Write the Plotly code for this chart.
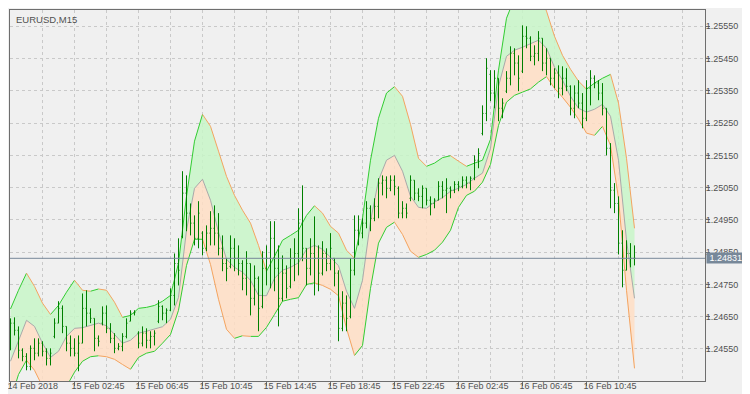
import plotly.graph_objects as go

# ---------------- data ----------------
bar_index = list(range(157))  # 15-minute bars, bar 0 = 14 Feb 2018 22:45

bar_open = [1.24568, 1.24630, 1.24608, 1.24546, 1.24527, 1.24496, 1.24552, 1.24537, 1.24568, 1.24543,
            1.24521, 1.24589, 1.24630, 1.24676, 1.24620, 1.24568, 1.24552, 1.24537, 1.24568, 1.24676,
            1.24661, 1.24645, 1.24583, 1.24630, 1.24661, 1.24614, 1.24583, 1.24552, 1.24558, 1.24589,
            1.24636, 1.24661, 1.24599, 1.24568, 1.24599, 1.24577, 1.24589, 1.24636, 1.24682, 1.24661,
            1.24670, 1.24716, 1.24815, 1.24899, 1.25033, 1.24971, 1.24940, 1.24893, 1.24909, 1.24862,
            1.24909, 1.24924, 1.24909, 1.24862, 1.24815, 1.24806, 1.24862, 1.24831, 1.24815, 1.24769,
            1.24815, 1.24707, 1.24769, 1.24682, 1.24800, 1.24831, 1.24893, 1.24800, 1.24707, 1.24785,
            1.24744, 1.24831, 1.24846, 1.24940, 1.24862, 1.24800, 1.24846, 1.24831, 1.24785, 1.24846,
            1.24815, 1.24831, 1.24785, 1.24614, 1.24692, 1.24651, 1.24794, 1.24918, 1.24909, 1.24940,
            1.24986, 1.24955, 1.24992, 1.25064, 1.25073, 1.25048, 1.25073, 1.25048, 1.24971, 1.24986,
            1.25017, 1.25073, 1.25033, 1.25023, 1.25048, 1.25011, 1.25001, 1.25011, 1.25054, 1.25042,
            1.25048, 1.25042, 1.25060, 1.25054, 1.25073, 1.25064, 1.25079, 1.25135, 1.25218, 1.25280,
            1.25401, 1.25343, 1.25389, 1.25296, 1.25349, 1.25389, 1.25466, 1.25436, 1.25411, 1.25519,
            1.25513, 1.25457, 1.25466, 1.25513, 1.25436, 1.25451, 1.25389, 1.25405, 1.25358, 1.25389,
            1.25364, 1.25296, 1.25343, 1.25312, 1.25265, 1.25358, 1.25389, 1.25374, 1.25343, 1.25296,
            1.25172, 1.25042, 1.25001, 1.24878, 1.24794, 1.24846, 1.24831]

bar_high = [1.24645, 1.24648, 1.24620, 1.24552, 1.24537, 1.24561, 1.24583, 1.24583, 1.24574, 1.24552,
            1.24552, 1.24645, 1.24698, 1.24685, 1.24620, 1.24592, 1.24583, 1.24592, 1.24722, 1.24732,
            1.24676, 1.24645, 1.24592, 1.24682, 1.24685, 1.24630, 1.24599, 1.24568, 1.24599, 1.24645,
            1.24670, 1.24670, 1.24605, 1.24620, 1.24614, 1.24605, 1.24608, 1.24701, 1.24685, 1.24676,
            1.24738, 1.24846, 1.24893, 1.25101, 1.25088, 1.25001, 1.24964, 1.25008, 1.24915, 1.24933,
            1.24977, 1.24995, 1.24971, 1.24902, 1.24831, 1.24902, 1.24893, 1.24871, 1.24825, 1.24853,
            1.24815, 1.24809, 1.24775, 1.24853, 1.24871, 1.24946, 1.24946, 1.24871, 1.24840, 1.24809,
            1.24862, 1.24893, 1.24986, 1.25057, 1.24862, 1.24893, 1.24961, 1.24871, 1.24884, 1.24862,
            1.24909, 1.24831, 1.24794, 1.24729, 1.24716, 1.24831, 1.24964, 1.24964, 1.24955, 1.25008,
            1.24995, 1.25017, 1.25079, 1.25088, 1.25085, 1.25088, 1.25088, 1.25054, 1.25008, 1.25001,
            1.25088, 1.25073, 1.25048, 1.25057, 1.25048, 1.25023, 1.25017, 1.25070, 1.25070, 1.25079,
            1.25054, 1.25070, 1.25070, 1.25085, 1.25085, 1.25085, 1.25150, 1.25172, 1.25305, 1.25451,
            1.25414, 1.25414, 1.25389, 1.25327, 1.25411, 1.25488, 1.25482, 1.25460, 1.25553, 1.25550,
            1.25519, 1.25491, 1.25535, 1.25513, 1.25482, 1.25451, 1.25420, 1.25429, 1.25426, 1.25420,
            1.25367, 1.25367, 1.25383, 1.25343, 1.25383, 1.25414, 1.25398, 1.25383, 1.25374, 1.25296,
            1.25188, 1.25064, 1.25023, 1.24918, 1.24887, 1.24878, 1.24871]

bar_low = [1.24546, 1.24592, 1.24521, 1.24512, 1.24484, 1.24484, 1.24515, 1.24527, 1.24527, 1.24499,
           1.24499, 1.24583, 1.24630, 1.24599, 1.24543, 1.24527, 1.24527, 1.24481, 1.24568, 1.24620,
           1.24630, 1.24543, 1.24558, 1.24623, 1.24599, 1.24568, 1.24537, 1.24546, 1.24543, 1.24583,
           1.24636, 1.24654, 1.24552, 1.24558, 1.24552, 1.24552, 1.24561, 1.24630, 1.24639, 1.24630,
           1.24667, 1.24685, 1.24747, 1.24893, 1.24915, 1.24902, 1.24871, 1.24862, 1.24840, 1.24853,
           1.24871, 1.24871, 1.24840, 1.24791, 1.24760, 1.24800, 1.24791, 1.24778, 1.24732, 1.24716,
           1.24654, 1.24685, 1.24605, 1.24676, 1.24747, 1.24738, 1.24729, 1.24620, 1.24698, 1.24707,
           1.24738, 1.24760, 1.24778, 1.24822, 1.24747, 1.24778, 1.24716, 1.24729, 1.24778, 1.24791,
           1.24794, 1.24744, 1.24574, 1.24605, 1.24605, 1.24645, 1.24778, 1.24871, 1.24893, 1.24924,
           1.24915, 1.24946, 1.24955, 1.25026, 1.25017, 1.25039, 1.25026, 1.24955, 1.24955, 1.24955,
           1.25008, 1.25011, 1.25008, 1.24986, 1.24995, 1.24964, 1.24986, 1.25011, 1.25017, 1.24971,
           1.25017, 1.25033, 1.25039, 1.25048, 1.25048, 1.25042, 1.25073, 1.25110, 1.25212, 1.25256,
           1.25318, 1.25296, 1.25256, 1.25265, 1.25343, 1.25367, 1.25398, 1.25349, 1.25405, 1.25482,
           1.25442, 1.25429, 1.25442, 1.25411, 1.25398, 1.25367, 1.25358, 1.25327, 1.25336, 1.25349,
           1.25274, 1.25265, 1.25296, 1.25234, 1.25256, 1.25305, 1.25358, 1.25321, 1.25274, 1.25150,
           1.24986, 1.24971, 1.24843, 1.24741, 1.24794, 1.24803, 1.24809]

bar_close = [1.24630, 1.24608, 1.24546, 1.24527, 1.24496, 1.24552, 1.24537, 1.24568, 1.24543, 1.24521,
             1.24537, 1.24630, 1.24676, 1.24620, 1.24568, 1.24552, 1.24537, 1.24568, 1.24676, 1.24661,
             1.24645, 1.24583, 1.24574, 1.24661, 1.24614, 1.24583, 1.24552, 1.24558, 1.24589, 1.24630,
             1.24661, 1.24664, 1.24568, 1.24599, 1.24577, 1.24589, 1.24599, 1.24682, 1.24661, 1.24670,
             1.24716, 1.24815, 1.24794, 1.25033, 1.24971, 1.24940, 1.24893, 1.24971, 1.24862, 1.24909,
             1.24924, 1.24909, 1.24862, 1.24815, 1.24800, 1.24862, 1.24831, 1.24815, 1.24769, 1.24815,
             1.24707, 1.24769, 1.24676, 1.24800, 1.24831, 1.24893, 1.24800, 1.24707, 1.24785, 1.24738,
             1.24831, 1.24846, 1.24940, 1.24862, 1.24800, 1.24846, 1.24831, 1.24785, 1.24846, 1.24815,
             1.24862, 1.24785, 1.24614, 1.24692, 1.24645, 1.24794, 1.24918, 1.24909, 1.24940, 1.24986,
             1.24955, 1.24992, 1.25064, 1.25073, 1.25048, 1.25073, 1.25054, 1.24971, 1.24986, 1.24971,
             1.25073, 1.25033, 1.25023, 1.25048, 1.25011, 1.25001, 1.25011, 1.25054, 1.25042, 1.25048,
             1.25042, 1.25060, 1.25054, 1.25073, 1.25064, 1.25079, 1.25135, 1.25156, 1.25280, 1.25420,
             1.25343, 1.25389, 1.25296, 1.25312, 1.25389, 1.25466, 1.25436, 1.25389, 1.25519, 1.25513,
             1.25457, 1.25466, 1.25513, 1.25436, 1.25451, 1.25389, 1.25405, 1.25358, 1.25389, 1.25364,
             1.25296, 1.25343, 1.25312, 1.25265, 1.25358, 1.25389, 1.25374, 1.25343, 1.25296, 1.25172,
             1.25042, 1.25001, 1.24878, 1.24794, 1.24846, 1.24831, 1.24831]

band_index = list(range(0, 157, 2))

band_upper = [1.24674, 1.24732, 1.24785, 1.24744, 1.24692, 1.24657, 1.24685, 1.24726, 1.24763, 1.24732,
              1.24729, 1.24736, 1.24732, 1.24695, 1.24648, 1.24654, 1.24676, 1.24679, 1.24685, 1.24698,
              1.24716, 1.24816, 1.25023, 1.25194, 1.25277, 1.25240, 1.25163, 1.25085, 1.25026, 1.24980,
              1.24940, 1.24871, 1.24791, 1.24837, 1.24887, 1.24902, 1.24918, 1.24964, 1.24994, 1.24971,
              1.24930, 1.24909, 1.24856, 1.24831, 1.24955, 1.25135, 1.25265, 1.25343, 1.25363, 1.25333,
              1.25246, 1.25141, 1.25116, 1.25126, 1.25143, 1.25149, 1.25132, 1.25116, 1.25126, 1.25135,
              1.25200, 1.25414, 1.25575, 1.25637, 1.25674, 1.25680, 1.25653, 1.25597, 1.25519, 1.25460,
              1.25417, 1.25380, 1.25355, 1.25374, 1.25389, 1.25401, 1.25312, 1.25141, 1.24924]

band_middle = [1.24512, 1.24574, 1.24639, 1.24620, 1.24568, 1.24524, 1.24543, 1.24589, 1.24614, 1.24616,
               1.24622, 1.24630, 1.24622, 1.24595, 1.24568, 1.24577, 1.24599, 1.24605, 1.24611, 1.24619,
               1.24642, 1.24710, 1.24918, 1.25048, 1.25076, 1.25011, 1.24912, 1.24828, 1.24803, 1.24788,
               1.24763, 1.24716, 1.24715, 1.24769, 1.24794, 1.24803, 1.24817, 1.24859, 1.24871, 1.24859,
               1.24834, 1.24808, 1.24729, 1.24676, 1.24763, 1.24946, 1.25073, 1.25135, 1.25150, 1.25101,
               1.25023, 1.24989, 1.24986, 1.25005, 1.25019, 1.25039, 1.25048, 1.25060, 1.25079, 1.25095,
               1.25172, 1.25364, 1.25457, 1.25476, 1.25485, 1.25496, 1.25507, 1.25482, 1.25423, 1.25383,
               1.25333, 1.25296, 1.25284, 1.25293, 1.25308, 1.25271, 1.25135, 1.24887, 1.24707]

band_lower = [1.24391, 1.24471, 1.24515, 1.24484, 1.24434, 1.24403, 1.24397, 1.24434, 1.24478, 1.24512,
              1.24526, 1.24529, 1.24526, 1.24518, 1.24502, 1.24487, 1.24524, 1.24537, 1.24543, 1.24568,
              1.24595, 1.24670, 1.24809, 1.24890, 1.24890, 1.24812, 1.24704, 1.24611, 1.24583, 1.24591,
              1.24589, 1.24589, 1.24617, 1.24657, 1.24698, 1.24704, 1.24709, 1.24750, 1.24755, 1.24747,
              1.24735, 1.24715, 1.24614, 1.24530, 1.24561, 1.24738, 1.24878, 1.24927, 1.24943, 1.24905,
              1.24853, 1.24834, 1.24843, 1.24856, 1.24881, 1.24918, 1.24989, 1.25026, 1.25039, 1.25067,
              1.25122, 1.25243, 1.25315, 1.25336, 1.25346, 1.25356, 1.25377, 1.25394, 1.25358, 1.25330,
              1.25299, 1.25262, 1.25219, 1.25212, 1.25240, 1.25181, 1.25017, 1.24732, 1.24490]

x_tick_bars = [0, 16, 32, 48, 64, 80, 96, 112, 128, 144]
x_tick_labels = ["14 Feb 2018", "15 Feb 02:45", "15 Feb 06:45", "15 Feb 10:45", "15 Feb 14:45",
                 "15 Feb 18:45", "15 Feb 22:45", "16 Feb 02:45", "16 Feb 06:45", "16 Feb 10:45"]
x_grid_bars = [8, 24, 40, 56, 72, 88, 104, 120, 136, 152, 168]
y_tick_prices = [1.24550, 1.24650, 1.24750, 1.24850, 1.24950, 1.25050,
                 1.25150, 1.25250, 1.25350, 1.25450, 1.25550]
last_price = 1.24831
symbol_title = "EURUSD,M15"

# ---------------- styles ----------------
BG = "#F0F0F0"
AXIS = "#6E6E6E"
GRID = "#C9C9C9"
TXT = "#505050"
UP = "#32CD32"
DOWN = "#F4A460"
MID = "#A9A9A9"
BAR = "#008000"
FONT = "Liberation Sans, Arial, sans-serif"
TICK_HALF = 0.25  # open/close tick length in bar units


def slope_segments(xs, ys, rising):
    sx, sy = [], []
    for i in range(len(ys) - 1):
        up = ys[i + 1] >= ys[i]
        if up == rising:
            sx += [xs[i], xs[i + 1], None]
            sy += [ys[i], ys[i + 1], None]
    return sx, sy


def ohlc_segments(xs, o, h, l, c):
    sx, sy = [], []
    for x, oo, hh, ll, cc in zip(xs, o, h, l, c):
        sx += [x, x, None, x - TICK_HALF, x, None, x, x + TICK_HALF, None]
        sy += [ll, hh, None, oo, oo, None, cc, cc, None]
    return sx, sy


fig = go.Figure()

# peach fill between middle and lower
fig.add_trace(go.Scatter(x=band_index, y=band_lower, mode="lines", line=dict(width=0),
                         hoverinfo="skip"))
fig.add_trace(go.Scatter(x=band_index, y=band_middle, mode="lines", line=dict(width=0),
                         fill="tonexty", fillcolor="rgba(255,222,196,0.85)", hoverinfo="skip"))
# green fill between upper and middle
fig.add_trace(go.Scatter(x=band_index, y=band_middle, mode="lines", line=dict(width=0),
                         hoverinfo="skip"))
fig.add_trace(go.Scatter(x=band_index, y=band_upper, mode="lines", line=dict(width=0),
                         fill="tonexty", fillcolor="rgba(200,246,200,0.85)", hoverinfo="skip"))

# middle line
fig.add_trace(go.Scatter(x=band_index, y=band_middle, mode="lines",
                         line=dict(color=MID, width=1), hoverinfo="skip"))

# slope-coloured outer bands
for band in (band_upper, band_lower):
    for rising, col in ((True, UP), (False, DOWN)):
        sx, sy = slope_segments(band_index, band, rising)
        fig.add_trace(go.Scatter(x=sx, y=sy, mode="lines", line=dict(color=col, width=1),
                                 connectgaps=False, hoverinfo="skip"))

# price bars (drawn as line segments so they sit above the fills)
bx, by = ohlc_segments(bar_index, bar_open, bar_high, bar_low, bar_close)
fig.add_trace(go.Scatter(x=bx, y=by, mode="lines", line=dict(color=BAR, width=1),
                         connectgaps=False, hoverinfo="skip"))

# current price line
fig.add_shape(type="line", xref="paper", x0=0, x1=1, yref="y", y0=last_price, y1=last_price,
              line=dict(color="#778899", width=1), layer="above")
fig.add_annotation(xref="paper", x=1, xanchor="left", xshift=1, yref="y", y=last_price,
                   yanchor="middle", text=" %.5f " % last_price, showarrow=False,
                   bgcolor="#778899", borderpad=0,
                   font=dict(family=FONT, size=9, color="#FFFFFF"))
fig.add_annotation(xref="paper", x=0.006, xanchor="left", yref="paper", y=0.995,
                   yanchor="top", text=symbol_title, showarrow=False,
                   font=dict(family=FONT, size=9.5, color=TXT))

fig.update_layout(
    width=750, height=394,
    margin=dict(l=2, r=53, t=2, b=21, autoexpand=False),
    paper_bgcolor=BG, plot_bgcolor=BG,
    showlegend=False,
    hovermode=False,
    xaxis=dict(
        range=[-0.125, 173.625],
        tickmode="array", tickvals=x_tick_bars, ticktext=x_tick_labels,
        tickangle=0, automargin=False,
        ticks="outside", ticklen=4, tickcolor=AXIS,
        ticklabelposition="outside right", ticklabelshift=-4, ticklabelstandoff=-4,
        ticklabeloverflow="allow",
        tickfont=dict(family=FONT, size=9, color=TXT),
        showline=True, mirror=True, linecolor=AXIS, linewidth=1,
        showgrid=True, gridcolor=GRID, griddash="3px,3px", gridwidth=1,
        minor=dict(tickmode="array", tickvals=x_grid_bars, showgrid=True,
                   gridcolor=GRID, griddash="3px,3px", gridwidth=1, ticks=""),
        zeroline=False,
        fixedrange=True,
    ),
    yaxis=dict(
        side="right",
        range=[1.244508, 1.256005],
        tickmode="array", tickvals=y_tick_prices,
        ticktext=["%.5f" % v for v in y_tick_prices],
        automargin=False,
        ticks="outside", ticklen=4, tickcolor=AXIS, ticklabelstandoff=-6,
        ticklabeloverflow="allow",
        tickfont=dict(family=FONT, size=9, color=TXT),
        showline=True, mirror=True, linecolor=AXIS, linewidth=1,
        showgrid=True, gridcolor=GRID, griddash="3px,3px", gridwidth=1,
        zeroline=False,
        fixedrange=True,
    ),
)

fig.write_html("out.html", config={"displayModeBar": False})
